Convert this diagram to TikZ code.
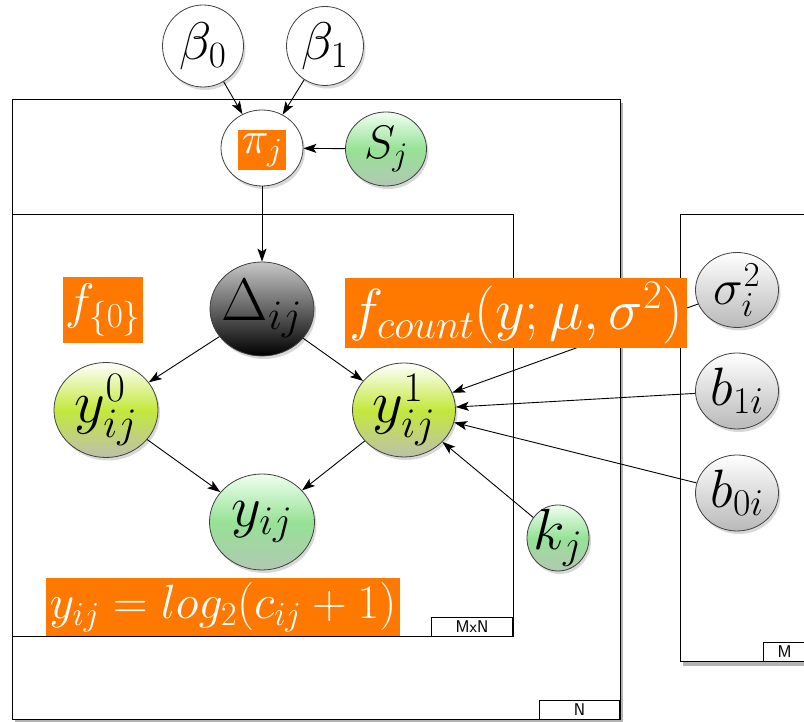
\documentclass[tikz,border=0pt]{standalone}
\usepackage{fix-cm}
\usetikzlibrary{arrows.meta,shapes.geometric,shadows}
\definecolor{lblorange}{RGB}{255,120,0}
\definecolor{mintmid}{RGB}{150,226,150}
\definecolor{mintlow}{RGB}{178,200,178}
\definecolor{limemid}{RGB}{196,232,60}
\definecolor{limelow}{RGB}{188,192,172}
\definecolor{greylow}{RGB}{185,185,185}
\begin{document}
\begin{tikzpicture}[x=1pt,y=1pt,>={Stealth[length=13pt,width=9pt,inset=3pt]},line width=0.9pt,
  every node/.style={font=\fontsize{46}{54}\selectfont},
  sz/.style={font=\fontsize{#1}{#1}\selectfont},
  var/.style={ellipse,draw=black!75,line width=0.8pt,inner sep=0pt,minimum width=82pt,minimum height=76pt,
    drop shadow={opacity=0.3,shadow xshift=2pt,shadow yshift=-3pt}},
  plain/.style={var,fill=white},
  mint/.style={var,top color=green!6,bottom color=mintlow,middle color=mintmid},
  lime/.style={var,top color=white,bottom color=limelow,middle color=limemid},
  dark/.style={var,top color=black!22,bottom color=black},
  grey/.style={var,top color=white,bottom color=greylow},
  lbl/.style={fill=lblorange,text=white,inner sep=4pt},
  plate/.style={draw=black,line width=1pt},
  platelbl/.style={draw=black,line width=1pt,fill=white,inner sep=0pt,minimum height=19pt,font=\sffamily\fontsize{17}{18}\selectfont}]
  \useasboundingbox (0,0) rectangle (804,722);

  % plates
  \path[plate,fill=white,drop shadow={opacity=0.6,shadow xshift=3pt,shadow yshift=-3pt}] (12,622) rectangle (620,2);
  \path[plate,fill=white,drop shadow={opacity=0.6,shadow xshift=3pt,shadow yshift=-4pt}] (680,507) rectangle (806,60);
  \draw[plate] (12,507) rectangle (513,85);
  \node[platelbl,minimum width=81pt,anchor=south east] (mnlbl) at (513,85) {MxN};
  \node[platelbl,minimum width=80pt,anchor=south east] (nlbl)  at (620,2)  {N};
  \node[platelbl,minimum width=42pt,anchor=south east] (mlbl)  at (806,60) {M};

  % variables
  \node[plain,minimum width=81pt,minimum height=82pt,label={[sz=53]center:$\beta_0$}]      (beta0) at (203,676) {};
  \node[plain,minimum width=77pt,minimum height=79pt,label={[sz=53]center:$\beta_1$}]      (beta1) at (325,676) {};
  \node[plain]                                                                            (pi)    at (262,574) {};
  \node[mint,minimum width=81pt,minimum height=74pt,label={[sz=47]center:$S_j$}]           (s)     at (386,573) {};
  \node[dark,minimum width=104pt,minimum height=94pt,label={[sz=60]center:$\Delta_{ij}$}]  (delta) at (262,413) {};
  \node[lime,minimum width=104pt,minimum height=95pt,label={[sz=60]center:$y^0_{ij}$}]     (y0)    at (106,312) {};
  \node[lime,minimum width=103pt,minimum height=94pt,label={[sz=60]center:$y^1_{ij}$}]     (y1)    at (404,312) {};
  \node[mint,minimum width=105pt,minimum height=96pt,label={[sz=58]center:$y_{ij}$}]       (y)     at (262,200) {};
  \node[mint,minimum width=62pt,minimum height=66pt,label={[sz=58]center:$k_j$}]           (k)     at (558,184) {};
  \node[grey,minimum width=83pt,minimum height=75pt,label={[sz=50]center:$\sigma^2_i$}]    (sigma) at (737,432) {};
  \node[grey,minimum width=83pt,minimum height=76pt,label={[sz=54]center:$b_{1i}$}]        (b1)    at (737,331) {};
  \node[grey,minimum width=83pt,minimum height=76pt,label={[sz=54]center:$b_{0i}$}]        (b0)    at (737,229) {};

  \path[->] (beta0) edge (pi)
            (beta1) edge (pi)
            (s)     edge (pi)
            (pi)    edge (delta)
            (delta) edge (y0)
                    edge (y1)
            (y0)    edge (y)
            (y1)    edge (y)
            (sigma) edge (y1)
            (b1)    edge (y1)
            (b0)    edge (y1)
            (k)     edge (y1);

  % labels
  \node[lbl]                                   (pilbl)  at (262,572) {$\pi_j$};
  \node[lbl,sz=50,inner xsep=2pt,inner ysep=7pt] (fzero)  at (103,412) {$f_{\{0\}}$};
  \node[lbl,sz=58]                             (fcount) at (516,409) {$f_{count}(y;\mu,\sigma^2)$};
  \node[lbl,sz=48]                             (ylog)   at (223,115) {$y_{ij} = log_2(c_{ij}+1)$};
\end{tikzpicture}
\end{document}
